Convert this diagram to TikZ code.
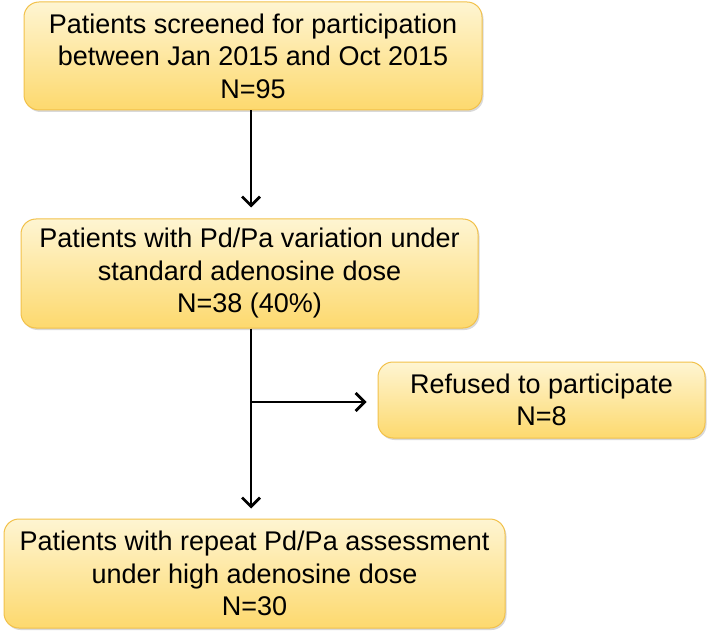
\documentclass[tikz,border=0pt]{standalone}
\usepackage{fontspec}
\setmainfont{Liberation Sans}
\usetikzlibrary{arrows.meta,shadows}
\definecolor{boxtop}{HTML}{FEF5D2}
\definecolor{boxbot}{HTML}{FDD96E}
\definecolor{boxline}{HTML}{F2C14A}
\tikzset{
  flowbox/.style={draw=boxline, line width=1pt, rounded corners=15pt,
    top color=boxtop, bottom color=boxbot, align=center,
    font=\fontsize{27}{32.5}\selectfont, inner sep=0pt,
    drop shadow={opacity=0.25, shadow xshift=1.5pt, shadow yshift=-2pt, fill=black!60}},
  flowarrow/.style={line width=2.8pt, -{Straight Barb[length=9pt,width=18pt,line width=2.8pt]}}
}
\begin{document}
\begin{tikzpicture}[x=1pt,y=-1pt]
\useasboundingbox (0,0) rectangle (709,636);
\node[flowbox, minimum width=458pt, minimum height=108pt] (b1) at (253,56)
  {Patients screened for participation\\between Jan 2015 and Oct 2015\\N=95};
\node[flowbox, minimum width=457pt, minimum height=109pt] (b2) at (249.5,273.5)
  {Patients with Pd/Pa variation under\\standard adenosine dose\\N=38 (40\%)};
\node[flowbox, minimum width=327pt, minimum height=76pt] (b3) at (541.5,400)
  {Refused to participate\\N=8};
\node[flowbox, minimum width=501pt, minimum height=109pt] (b4) at (254.5,573.5)
  {Patients with repeat Pd/Pa assessment\\under high adenosine dose\\N=30};
\coordinate (vx) at (251,0);
\coordinate (br) at (251,402);
\draw[flowarrow, shorten >=11pt] (b1.south -| vx) -- (b2.north -| vx);
\draw[flowarrow, shorten >=10pt] (b2.south -| vx) -- (b4.north -| vx);
\draw[flowarrow, shorten >=11pt] (br) -- (br -| b3.west);
\end{tikzpicture}
\end{document}
